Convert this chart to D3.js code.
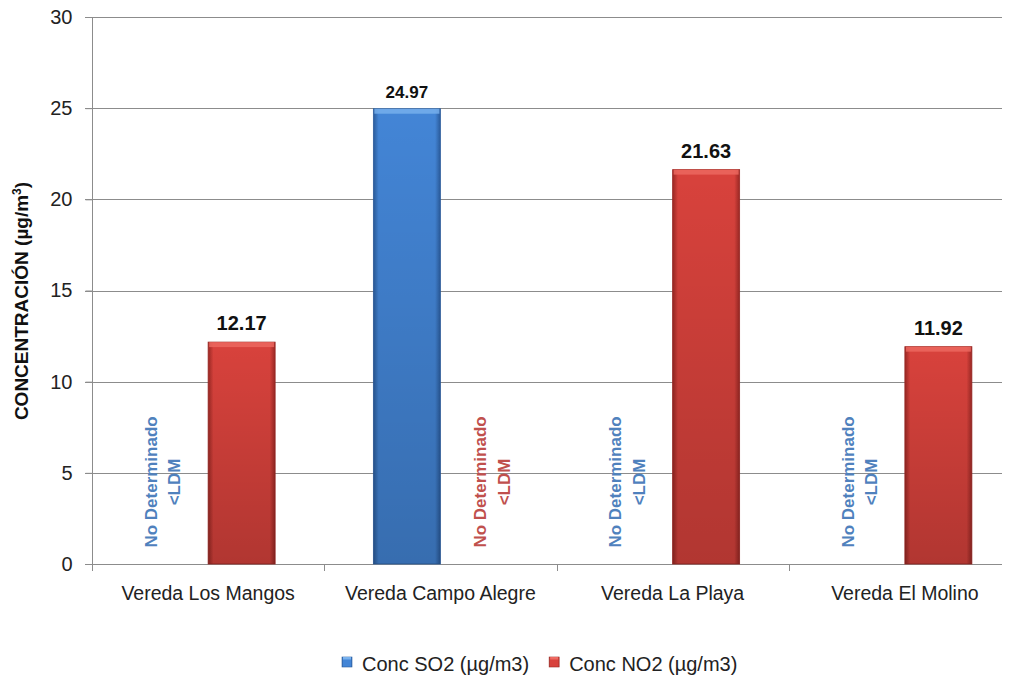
<!DOCTYPE html>
<html>
<head>
<meta charset="utf-8">
<script src="https://cdn.jsdelivr.net/npm/d3@7"></script>
<style>
  html, body { margin: 0; padding: 0; background: #fff; }
  svg { display: block; font-family: "Liberation Sans", Arial, sans-serif; }
</style>
</head>
<body>
<div id="chart"></div>
<script>
const categories = ["Vereda Los Mangos", "Vereda Campo Alegre", "Vereda La Playa", "Vereda El Molino"];
const seriesNames = ["Conc SO2 (µg/m3)", "Conc NO2 (µg/m3)"];
const so2Values = [null, 24.97, null, null];
const no2Values = [12.17, null, 21.63, 11.92];
const yTicks = [0, 5, 10, 15, 20, 25, 30];
const missingText = ["No Determinado", "<LDM"];

const width = 1011, height = 679;
const margin = {left: 92, top: 17, bottom: 115};
const plotRight = 1021;   // plot area runs a little past the picture edge
const gridRight = 1002;

const svg = d3.select("#chart").append("svg")
    .attr("width", width)
    .attr("height", height);

// rows for the grouped bars
const rows = [];
categories.forEach((c, i) => {
    rows.push({cat: c, key: "so2", value: so2Values[i]});
    rows.push({cat: c, key: "no2", value: no2Values[i]});
});

const x = d3.scaleBand().domain(categories).range([margin.left, plotRight]).paddingInner(0).paddingOuter(0);
const xSub = d3.scaleBand().domain(["so2", "no2"]).range([0, x.bandwidth()]).paddingInner(0).paddingOuter(0.733);
const y = d3.scaleLinear().domain([0, 30]).range([height - margin.bottom, margin.top]);

const colors = {
    so2: {edge: "#2b5c9c", mid: "#4385d6", top: "#79b2ee", text: "#4f81bd"},
    no2: {edge: "#9a2824", mid: "#d8423c", top: "#ee6a62", text: "#c0504d"}
};

// gradients for the bevelled bars
const defs = svg.append("defs");
Object.keys(colors).forEach(k => {
    const g = defs.append("linearGradient").attr("id", "grad-" + k)
        .attr("x1", 0).attr("x2", 1).attr("y1", 0).attr("y2", 0);
    g.append("stop").attr("offset", "0%").attr("stop-color", colors[k].edge);
    g.append("stop").attr("offset", "8%").attr("stop-color", colors[k].mid);
    g.append("stop").attr("offset", "50%").attr("stop-color", colors[k].mid);
    g.append("stop").attr("offset", "92%").attr("stop-color", colors[k].mid);
    g.append("stop").attr("offset", "100%").attr("stop-color", colors[k].edge);
});
const shade = defs.append("linearGradient").attr("id", "shade")
    .attr("x1", 0).attr("x2", 0).attr("y1", 0).attr("y2", 1);
shade.append("stop").attr("offset", "0%").attr("stop-color", "#000").attr("stop-opacity", 0);
shade.append("stop").attr("offset", "100%").attr("stop-color", "#000").attr("stop-opacity", 0.18);

// gridlines
svg.append("g")
    .selectAll("line")
    .data(yTicks)
    .join("line")
    .attr("x1", margin.left - 7)
    .attr("x2", gridRight)
    .attr("y1", d => Math.round(y(d)) + 0.5)
    .attr("y2", d => Math.round(y(d)) + 0.5)
    .attr("stroke", "#8c8c8c")
    .attr("stroke-width", 1);

// y axis
const yAxis = svg.append("g")
    .attr("transform", `translate(${margin.left + 0.5},0)`)
    .call(d3.axisLeft(y).tickValues(yTicks).tickSize(7).tickPadding(13));
yAxis.select(".domain").attr("stroke", "#8c8c8c").attr("d", `M0,${margin.top}V${y(0) + 7}`);
yAxis.selectAll(".tick line").attr("stroke", "#8c8c8c");
yAxis.selectAll(".tick text")
    .attr("font-family", "Liberation Sans, Arial, sans-serif")
    .attr("font-size", 20)
    .attr("fill", "#222");

// category tick marks
svg.append("g")
    .selectAll("line")
    .data(categories.slice(1))
    .join("line")
    .attr("x1", d => Math.round(x(d)) + 0.5)
    .attr("x2", d => Math.round(x(d)) + 0.5)
    .attr("y1", y(0))
    .attr("y2", y(0) + 7)
    .attr("stroke", "#8c8c8c");

// category labels
svg.append("g")
    .selectAll("text")
    .data(categories)
    .join("text")
    .attr("x", d => x(d) + x.bandwidth() / 2)
    .attr("y", y(0) + 36)
    .attr("text-anchor", "middle")
    .attr("font-size", 19.5)
    .attr("fill", "#222")
    .text(d => d);

// bars
const present = rows.filter(d => d.value != null);
const bars = svg.append("g")
    .selectAll("g")
    .data(present)
    .join("g")
    .attr("transform", d => `translate(${x(d.cat) + xSub(d.key)},${y(d.value)})`);

bars.append("rect")
    .attr("width", xSub.bandwidth())
    .attr("height", d => y(0) - y(d.value))
    .attr("fill", d => `url(#grad-${d.key})`)
    .attr("stroke", d => colors[d.key].edge)
    .attr("stroke-width", 0.8);
bars.append("rect")
    .attr("width", xSub.bandwidth())
    .attr("height", d => y(0) - y(d.value))
    .attr("fill", "url(#shade)");
bars.append("rect")
    .attr("x", 1)
    .attr("width", xSub.bandwidth() - 2)
    .attr("height", 5)
    .attr("fill", d => colors[d.key].top)
    .attr("opacity", 0.8);

// value labels
svg.append("g")
    .selectAll("text")
    .data(present)
    .join("text")
    .attr("x", d => x(d.cat) + xSub(d.key) + xSub.bandwidth() / 2)
    .attr("y", d => y(d.value) - (d.key === "so2" ? 11 : 12))
    .attr("text-anchor", "middle")
    .attr("font-weight", "bold")
    .attr("font-size", d => d.key === "so2" ? 17 : 20)
    .attr("fill", "#111")
    .text(d => d.value.toFixed(2));

// "No Determinado <LDM" labels where a value is missing
const missing = rows.filter(d => d.value == null);
const miss = svg.append("g")
    .selectAll("g")
    .data(missing)
    .join("g")
    .attr("transform", d => {
        const cx = x(d.cat) + xSub(d.key) + xSub.bandwidth() / 2 + (d.key === "so2" ? -12 : 18);
        return `translate(${cx},${y(4.5)}) rotate(-90)`;
    });
miss.selectAll("text")
    .data(d => missingText.map((t, i) => ({t, i, key: d.key})))
    .join("text")
    .attr("x", 0)
    .attr("y", d => (d.i === 0 ? -11.75 : 11.75))
    .attr("dy", "0.36em")
    .attr("text-anchor", "middle")
    .attr("font-weight", "bold")
    .attr("font-size", 17)
    .attr("fill", d => colors[d.key].text)
    .text(d => d.t);

// y axis title
const yTitle = svg.append("text")
    .attr("transform", `translate(28,301) rotate(-90)`)
    .attr("text-anchor", "middle")
    .attr("font-weight", "bold")
    .attr("font-size", 19)
    .attr("fill", "#111");
yTitle.append("tspan").text("CONCENTRACIÓN (µg/m");
yTitle.append("tspan").attr("font-size", 12).attr("dy", -7).text("3");
yTitle.append("tspan").attr("dy", 7).text(")");

// legend
const legend = svg.append("g").attr("transform", "translate(342,657)");
let lx = 0;
["so2", "no2"].forEach((k, i) => {
    const item = legend.append("g").attr("transform", `translate(${lx},0)`);
    item.append("rect")
        .attr("width", 10).attr("height", 10)
        .attr("fill", `url(#grad-${k})`)
        .attr("stroke", colors[k].edge).attr("stroke-width", 0.6);
    item.append("rect")
        .attr("x", 1).attr("width", 8).attr("height", 2.5)
        .attr("fill", colors[k].top);
    const t = item.append("text")
        .attr("x", 20)
        .attr("y", 14)
        .attr("font-size", 20)
        .attr("fill", "#222")
        .text(seriesNames[i]);
    lx += 20 + t.node().getComputedTextLength() + 20;
});
</script>
</body>
</html>
